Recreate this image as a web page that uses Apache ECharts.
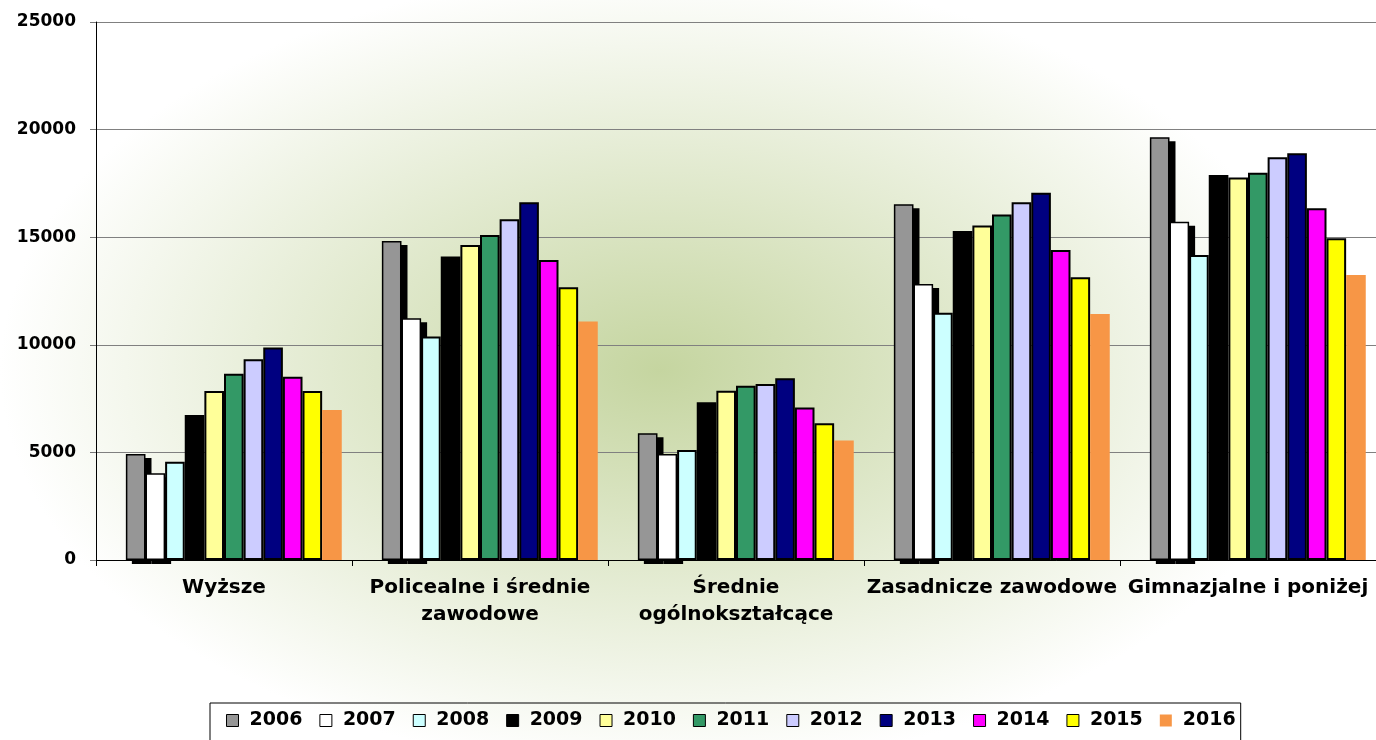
<!DOCTYPE html>
<html>
<head>
<meta charset="utf-8">
<script src="https://cdn.jsdelivr.net/npm/echarts@6/dist/echarts.min.js"></script>
<style>
html,body{margin:0;padding:0;}
#chart{width:1376px;height:740px;background:radial-gradient(ellipse 660px 400px at 660px 370px,#c5d5a0 0%,#ffffff 100%);}
</style>
</head>
<body>
<div id="chart"></div>
<script>
const categories = ['Wyższe', 'Policealne i średnie zawodowe', 'Średnie ogólnokształcące', 'Zasadnicze zawodowe', 'Gimnazjalne i poniżej'];
const years = ['2006','2007','2008','2009','2010','2011','2012','2013','2014','2015','2016'];
const v2006 = [4930, 14820, 5890, 16530, 19640];
const v2007 = [4030, 11230, 4930, 12830, 15720];
const v2008 = [4570, 10380, 5110, 11490, 14170];
const v2009 = [6740, 14100, 7330, 15290, 17890];
const v2010 = [7850, 14640, 7870, 15540, 17770];
const v2011 = [8660, 15100, 8100, 16060, 18000];
const v2012 = [9330, 15830, 8180, 16620, 18710];
const v2013 = [9870, 16620, 8440, 17070, 18900];
const v2014 = [8510, 13940, 7090, 14410, 16340];
const v2015 = [7850, 12670, 6350, 13140, 14950];
const v2016 = [6970, 11080, 5550, 11430, 13240];
const yTicks = [0, 5000, 10000, 15000, 20000, 25000];

const values = [v2006,v2007,v2008,v2009,v2010,v2011,v2012,v2013,v2014,v2015,v2016];
const colors = ['#969696','#ffffff','#ccffff','#000000','#ffff99','#339966','#ccccff','#000080','#ff00ff','#ffff00','#f79646'];
const labelBreaks = {
  'Policealne i średnie zawodowe': 'Policealne i średnie\nzawodowe',
  'Średnie ogólnokształcące': 'Średnie\nogólnokształcące'
};
const FONT = 'DejaVu Sans';
const SHADOWED = 2; // first two series carry a drop shadow

const series = [{
  name: '_pad', type: 'bar', data: [], barGap: '0%', barCategoryGap: '8%', silent: true
}];
years.forEach((y, i) => {
  const isLast = i === years.length - 1;
  const style = {
    color: colors[i],
    borderColor: '#000',
    borderWidth: isLast ? 0 : 2
  };
  if (i < SHADOWED) {
    style.borderWidth = 3;
    style.shadowColor = '#000';
    style.shadowOffsetX = 6;
    style.shadowOffsetY = 4;
    style.shadowBlur = 0;
  }
  series.push({
    name: y, type: 'bar', data: values[i], barGap: '0%', barCategoryGap: '8%',
    itemStyle: style, emphasis: {disabled: true}
  });
});

const chart = echarts.init(document.getElementById('chart'), null, {renderer: 'canvas'});
chart.setOption({
  animation: false,
  backgroundColor: 'transparent',
  grid: {left: 96, right: 0, top: 22, bottom: 180, containLabel: false},
  legend: {
    left: 210, top: 703,
    padding: [8, 5, 12, 16],
    itemGap: 17, itemWidth: 12, itemHeight: 12,
    borderColor: '#000', borderWidth: 1,
    backgroundColor: 'transparent',
    textStyle: {fontFamily: FONT, fontSize: 19, fontWeight: 'bold', color: '#000', padding: [0,0,0,6]},
    data: years.map((y, i) => ({
      name: y,
      icon: 'rect',
      itemStyle: {
        color: colors[i],
        borderColor: '#000',
        borderWidth: i === years.length - 1 ? 0 : 1,
        shadowBlur: 0, shadowOffsetX: 0, shadowOffsetY: 0, shadowColor: 'transparent'
      }
    }))
  },
  xAxis: {
    type: 'category',
    data: categories,
    axisLine: {lineStyle: {color: '#000', width: 1}},
    axisTick: {show: true, interval: 0, length: 6, lineStyle: {color: '#000'}},
    axisLabel: {
      interval: 0, margin: 14, hideOverlap: false,
      fontFamily: FONT, fontSize: 20, fontWeight: 'bold', color: '#000', lineHeight: 27,
      formatter: v => labelBreaks[v] || v
    }
  },
  yAxis: {
    type: 'value',
    min: yTicks[0], max: yTicks[yTicks.length - 1], interval: 5000,
    axisLine: {show: true, lineStyle: {color: '#000', width: 1}},
    axisTick: {show: true, length: 6, lineStyle: {color: '#777'}},
    splitLine: {show: true, lineStyle: {color: '#808080', width: 1}},
    axisLabel: {margin: 20, fontFamily: FONT, fontSize: 17, fontWeight: 'bold', color: '#000',
      formatter: v => String(v)}
  },
  series: series
});

// draw the outline before the fill on the shadowed bars so the shadow stays outside the bar
try {
  const model = chart.getModel();
  for (let k = 1; k <= SHADOWED; k++) {
    const data = model.getSeriesByIndex(k).getData();
    data.eachItemGraphicEl(el => {
      if (el && el.setStyle) el.setStyle('strokeFirst', true);
    });
  }
  chart.getZr().refreshImmediately();
} catch (e) {}
</script>
</body>
</html>
